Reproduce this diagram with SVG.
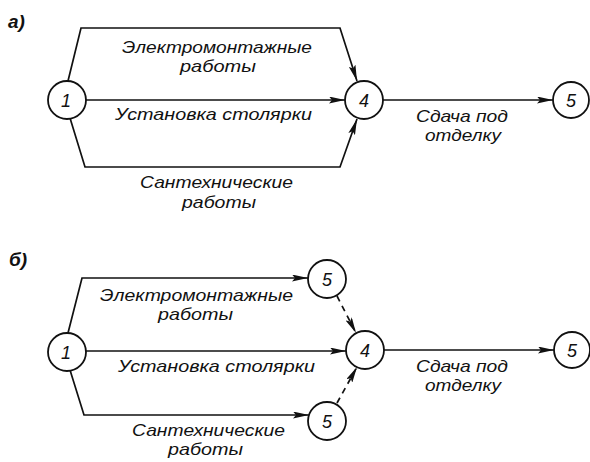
<svg xmlns="http://www.w3.org/2000/svg" width="590" height="462" viewBox="0 0 590 462">
<style>
.bg{fill:#ffffff}
.node circle{fill:#ffffff;stroke:#111;stroke-width:1.8}
.node text{font-family:"Liberation Sans",Arial,sans-serif;font-style:italic;font-size:18px;fill:#111;text-anchor:middle}
.edge{fill:none;stroke:#111;stroke-width:1.7}
.dash{stroke-dasharray:6 5}
.lbl{font-family:"Liberation Sans",Arial,sans-serif;font-style:italic;font-size:16.5px;fill:#111}
.part{font-family:"Liberation Sans",Arial,sans-serif;font-style:italic;font-weight:bold;font-size:19px;fill:#111}
</style>
<defs>
<marker id="arr" viewBox="0 0 16 7" refX="16" refY="3.5" markerWidth="16" markerHeight="7" markerUnits="userSpaceOnUse" orient="auto">
<path d="M0,0 L16,3.5 L0,7 L3,3.5 Z" fill="#111"/>
</marker>
</defs>
<rect class="bg" x="0" y="0" width="590" height="462"/>
<text class="part" x="8" y="28">а)</text>
<text class="part" x="9" y="266">б)</text>
<g id="connectors">
<path class="edge" d="M68,81 L81,28 L340,28 L357,81" marker-end="url(#arr)"/>
<path class="edge" d="M86,100 L345,100" marker-end="url(#arr)"/>
<path class="edge" d="M70,118 L85,167 L340,167 L357,119" marker-end="url(#arr)"/>
<path class="edge" d="M383,100 L553,100" marker-end="url(#arr)"/>
<path class="edge" d="M68,333 L82,278 L308,278" marker-end="url(#arr)"/>
<path class="edge" d="M86,351 L346,351" marker-end="url(#arr)"/>
<path class="edge" d="M70,370 L84,415 L309,415" marker-end="url(#arr)"/>
<path class="edge dash" d="M337,296 L356,333" marker-end="url(#arr)"/>
<path class="edge dash" d="M337,403 L357,367" marker-end="url(#arr)"/>
<path class="edge" d="M384,350 L554,350" marker-end="url(#arr)"/>
</g>
<g id="labels">
<text class="lbl" x="122" y="53" textLength="190" lengthAdjust="spacingAndGlyphs">Электромонтажные</text>
<text class="lbl" x="180" y="72" textLength="76" lengthAdjust="spacingAndGlyphs">работы</text>
<text class="lbl" x="115" y="120" textLength="197" lengthAdjust="spacingAndGlyphs">Установка столярки</text>
<text class="lbl" x="140" y="188" textLength="153" lengthAdjust="spacingAndGlyphs">Сантехнические</text>
<text class="lbl" x="182" y="208" textLength="74" lengthAdjust="spacingAndGlyphs">работы</text>
<text class="lbl" x="416" y="122" textLength="92" lengthAdjust="spacingAndGlyphs">Сдача под</text>
<text class="lbl" x="425" y="141" textLength="76" lengthAdjust="spacingAndGlyphs">отделку</text>
<text class="lbl" x="100" y="301" textLength="193" lengthAdjust="spacingAndGlyphs">Электромонтажные</text>
<text class="lbl" x="158" y="320" textLength="75" lengthAdjust="spacingAndGlyphs">работы</text>
<text class="lbl" x="118" y="372" textLength="197" lengthAdjust="spacingAndGlyphs">Установка столярки</text>
<text class="lbl" x="132" y="436" textLength="153" lengthAdjust="spacingAndGlyphs">Сантехнические</text>
<text class="lbl" x="168" y="455" textLength="75" lengthAdjust="spacingAndGlyphs">работы</text>
<text class="lbl" x="416" y="372" textLength="92" lengthAdjust="spacingAndGlyphs">Сдача под</text>
<text class="lbl" x="425" y="391" textLength="76" lengthAdjust="spacingAndGlyphs">отделку</text>
</g>
<g id="a-n1" class="node"><circle cx="67" cy="100" r="19"/><text x="66" y="107">1</text></g>
<g id="a-n4" class="node"><circle cx="364" cy="100" r="19"/><text x="364" y="107">4</text></g>
<g id="a-n5" class="node"><circle cx="571" cy="100" r="18"/><text x="571" y="107">5</text></g>
<g id="b-n1" class="node"><circle cx="67" cy="352" r="19"/><text x="66" y="359">1</text></g>
<g id="b-n5top" class="node"><circle cx="327" cy="279" r="19"/><text x="327" y="286">5</text></g>
<g id="b-n5bot" class="node"><circle cx="327" cy="421" r="19"/><text x="327" y="428">5</text></g>
<g id="b-n4" class="node"><circle cx="365" cy="350" r="19"/><text x="365" y="357">4</text></g>
<g id="b-n5" class="node"><circle cx="572" cy="350" r="18"/><text x="572" y="357">5</text></g>
</svg>
